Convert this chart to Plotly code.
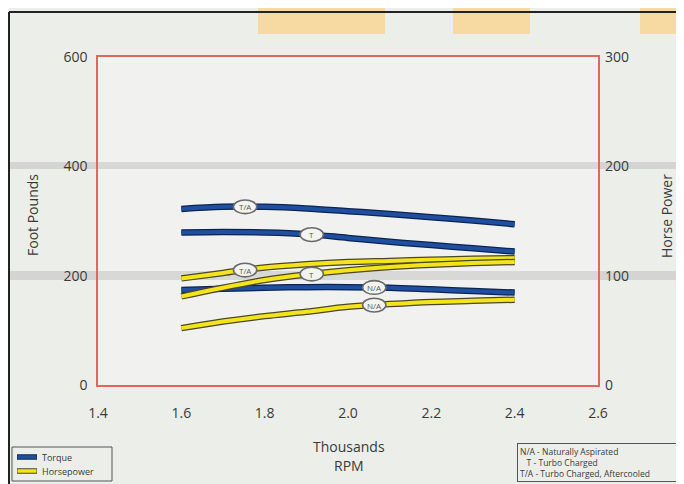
import plotly.graph_objects as go
import numpy as np

# ---------------- data ----------------
rpm = [1.6, 1.7, 1.8, 1.9, 2.0, 2.1, 2.2, 2.3, 2.4]
torque_ta = [322, 326, 326, 323, 318, 313, 307, 301, 294]
torque_t = [279, 280, 279, 276, 269, 262, 256, 250, 244]
torque_na = [174, 176, 178, 179, 179, 178, 175, 172, 169]
hp_ta = [97.5, 102.5, 107.5, 110.5, 112.5, 113.5, 114.5, 115.5, 116]
hp_t = [81, 89, 96, 101, 105, 108, 110, 111.5, 112.5]
hp_na = [52, 58, 63, 67, 71.5, 74, 76, 77, 78]

x_ticks = [1.4, 1.6, 1.8, 2.0, 2.2, 2.4, 2.6]
y_ticks = [0, 200, 400, 600]
y2_ticks = [0, 100, 200, 300]

series_names = ["Torque", "Horsepower"]

# label positions (rpm) for the ellipse tags
tags = [
    ("T/A", torque_ta, "y", 1.753),
    ("T", torque_t, "y", 1.913),
    ("N/A", torque_na, "y", 2.063),
    ("T/A", hp_ta, "y2", 1.753),
    ("T", hp_t, "y2", 1.913),
    ("N/A", hp_na, "y2", 2.063),
]

BLUE = "#1f4f9e"
BLUE_EDGE = "#0c2454"
YELLOW = "#f4e41c"
YELLOW_EDGE = "#4a4626"
FRAME = "#e0675a"
TXT = "#3a3a3a"
FONT = "Open Sans"

fig = go.Figure()

def add_series(y, color, edge, axis, name):
    fig.add_trace(go.Scatter(x=rpm, y=y, mode="lines", yaxis=axis,
                             line=dict(color=edge, width=6.5, shape="spline"),
                             hoverinfo="skip", showlegend=False))
    fig.add_trace(go.Scatter(x=rpm, y=y, mode="lines", yaxis=axis, name=name,
                             showlegend=False,
                             line=dict(color=color, width=4, shape="spline")))

add_series(torque_ta, BLUE, BLUE_EDGE, "y", series_names[0])
add_series(torque_t, BLUE, BLUE_EDGE, "y", series_names[0])
add_series(torque_na, BLUE, BLUE_EDGE, "y", series_names[0])
add_series(hp_ta, YELLOW, YELLOW_EDGE, "y2", series_names[1])
add_series(hp_t, YELLOW, YELLOW_EDGE, "y2", series_names[1])
add_series(hp_na, YELLOW, YELLOW_EDGE, "y2", series_names[1])

# screen pixel -> paper helper (plot area 98..598 x, 57..385 y on screen)
def px(x):
    return (x - 98) / 500.0

def py(y):
    return (385 - y) / 328.0

shapes = []
annotations = []

# scanned page decorations
for x0, x1 in [(258, 385), (453, 530), (640, 700)]:
    shapes.append(dict(type="rect", xref="paper", yref="paper", x0=px(x0), x1=px(x1),
                       y0=py(34), y1=py(-5), fillcolor="#f7d9a2", line_width=0, layer="below"))
for y0, y1 in [(162, 169), (271, 280)]:
    shapes.append(dict(type="rect", xref="paper", yref="paper", x0=px(8), x1=px(700),
                       y0=py(y1), y1=py(y0), fillcolor="rgba(150,150,150,0.28)",
                       line_width=0, layer="below"))
shapes.append(dict(type="line", xref="paper", yref="paper", x0=px(9), x1=px(700),
                   y0=py(12), y1=py(12), line=dict(color="#222", width=2)))
shapes.append(dict(type="line", xref="paper", yref="paper", x0=px(9), x1=px(9),
                   y0=py(12), y1=py(500), line=dict(color="#222", width=2)))

# ellipse tags on curves
for txt, series, axis, xr in tags:
    yv = float(np.interp(xr, rpm, series))
    hh = 12.5 if axis == "y" else 6.25
    shapes.append(dict(type="circle", xref="x", yref=axis, x0=xr - 0.028, x1=xr + 0.028,
                       y0=yv - hh, y1=yv + hh, fillcolor="#f3f3ef",
                       line=dict(color="#6a6a6a", width=1.6), layer="above"))
    annotations.append(dict(x=xr, y=yv, xref="x", yref=axis, text=txt, showarrow=False,
                            xanchor="center", yanchor="middle",
                            font=dict(family=FONT, size=8, color="#555")))

# hand-built legend box (bottom-left)
shapes.append(dict(type="rect", xref="paper", yref="paper", x0=px(12), x1=px(112),
                   y0=py(481), y1=py(447), line=dict(color="#555", width=1),
                   fillcolor="rgba(0,0,0,0)"))
for (name, col, edge), ly in zip([(series_names[0], BLUE, BLUE_EDGE),
                                  (series_names[1], YELLOW, YELLOW_EDGE)], [457, 471]):
    shapes.append(dict(type="line", xref="paper", yref="paper", x0=px(17), x1=px(37),
                       y0=py(ly), y1=py(ly), line=dict(color=edge, width=5.5)))
    shapes.append(dict(type="line", xref="paper", yref="paper", x0=px(17.5), x1=px(36.5),
                       y0=py(ly), y1=py(ly), line=dict(color=col, width=3.5)))
    annotations.append(dict(x=px(40), y=py(ly), xref="paper", yref="paper", text=name,
                            xanchor="left", yanchor="middle", showarrow=False,
                            font=dict(family=FONT, size=9, color=TXT)))

# axis titles & notes
annotations += [
    dict(x=px(32), y=py(215), xref="paper", yref="paper", text="Foot Pounds", textangle=-90,
         xanchor="center", yanchor="middle",
         showarrow=False, font=dict(family=FONT, size=14, color=TXT)),
    dict(x=px(666), y=py(216), xref="paper", yref="paper", text="Horse Power", textangle=-90,
         xanchor="center", yanchor="middle",
         showarrow=False, font=dict(family=FONT, size=14, color=TXT)),
    dict(x=px(349), y=py(446), xref="paper", yref="paper", text="Thousands",
         xanchor="center", yanchor="middle",
         showarrow=False, font=dict(family=FONT, size=14, color=TXT)),
    dict(x=px(349), y=py(465), xref="paper", yref="paper", text="RPM",
         xanchor="center", yanchor="middle",
         showarrow=False, font=dict(family=FONT, size=14, color=TXT)),
    dict(x=px(517), y=py(443), xref="paper", yref="paper", xanchor="left", yanchor="top",
         align="left", showarrow=False, bordercolor="#555", borderwidth=1, borderpad=2,
         width=154,
         text="N/A - Naturally Aspirated<br>&nbsp;&nbsp;&nbsp;T - Turbo Charged<br>T/A - Turbo Charged, Aftercooled",
         font=dict(family=FONT, size=8.5, color=TXT)),
]

axis_font = dict(family=FONT, size=14, color=TXT)
fig.update_layout(
    width=676, height=476,
    margin=dict(l=90, r=86, t=49, b=99, autoexpand=False),
    paper_bgcolor="#eceeea",
    plot_bgcolor="#f1f2ef",
    font=dict(family=FONT, color=TXT),
    showlegend=False,
    xaxis=dict(range=[1.4, 2.6], tickvals=x_ticks, ticktext=[f"{v:.1f}" for v in x_ticks],
               showgrid=False, zeroline=False, showline=True, linecolor=FRAME, linewidth=1.5,
               mirror=True, ticks="", tickfont=axis_font, ticklabelstandoff=14),
    yaxis=dict(range=[0, 600], tickvals=y_ticks, showgrid=False, zeroline=False,
               showline=True, linecolor=FRAME, linewidth=1.5, mirror=True, ticks="",
               tickfont=axis_font, ticklabelstandoff=6),
    yaxis2=dict(range=[0, 300], tickvals=y2_ticks, overlaying="y", side="right",
                showgrid=False, zeroline=False, showline=False, ticks="",
                tickfont=axis_font, ticklabelstandoff=6),
    shapes=shapes,
    annotations=annotations,
)

fig.write_html("out.html")
